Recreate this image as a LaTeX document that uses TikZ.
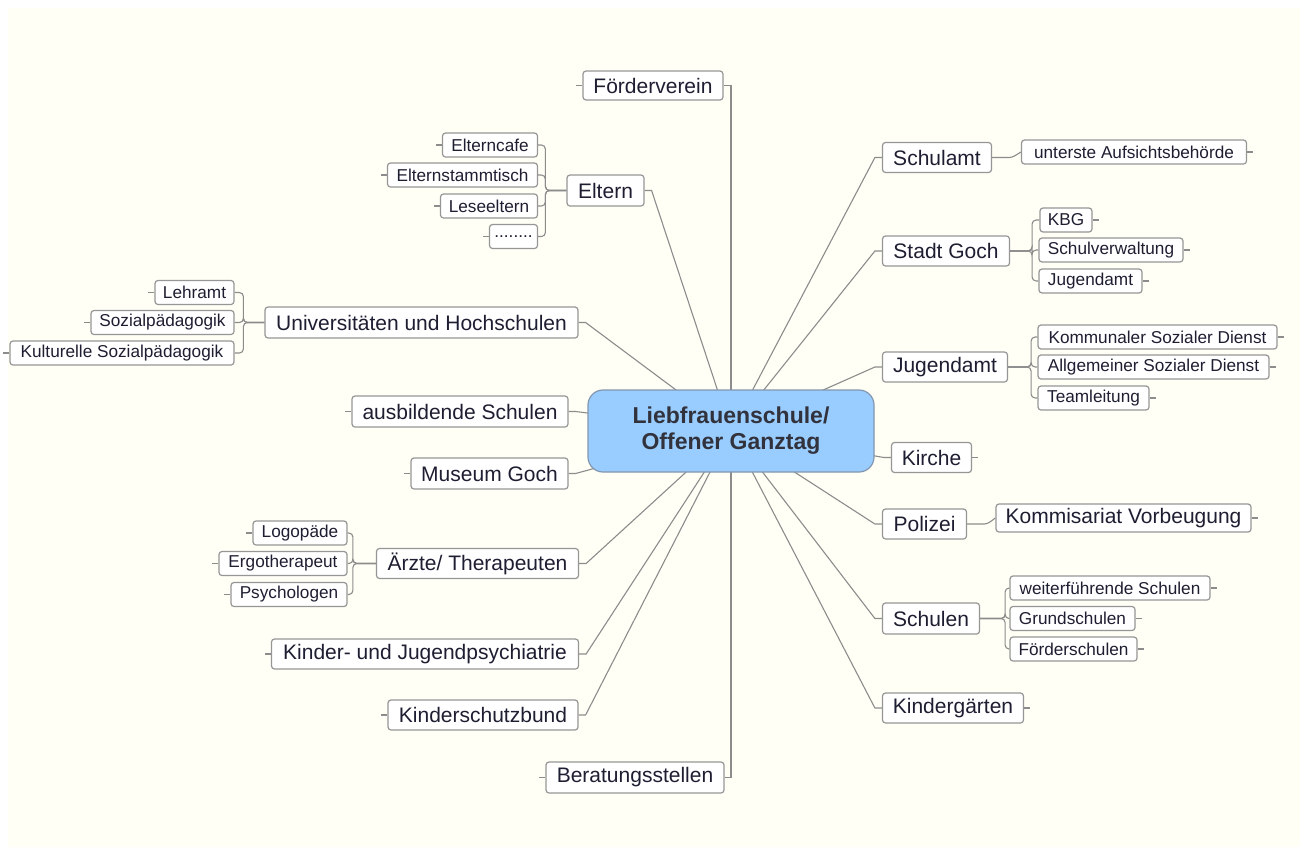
\documentclass[tikz,border=0pt]{standalone}
\usepackage{fontspec}
\setmainfont{Liberation Sans}
\usetikzlibrary{calc}
\pgfdeclarelayer{canvas}
\pgfdeclarelayer{background}
\pgfsetlayers{canvas,background,main}
\definecolor{cream}{RGB}{255,255,245}
\definecolor{boxline}{RGB}{150,150,150}
\definecolor{conline}{RGB}{140,140,140}
\definecolor{txt}{RGB}{30,30,50}
\definecolor{centerfill}{RGB}{153,204,255}
\definecolor{centerline}{RGB}{130,150,175}
\definecolor{centertxt}{RGB}{50,50,60}
\tikzset{
  x=1pt, y=-1pt,
  boxbase/.style={draw=boxline, line width=1.2pt, fill=white, rounded corners=3pt,
    inner sep=0pt, text=txt, anchor=center},
  mainbox/.style={boxbase, font=\fontsize{21}{24}\selectfont},
  subbox/.style={boxbase, font=\fontsize{17.2}{20}\selectfont},
  centerbox/.style={draw=centerline, line width=1.2pt, fill=centerfill, rounded corners=15pt,
    inner sep=0pt, text=centertxt, align=center,
    font=\fontsize{23}{26}\selectfont\bfseries},
  conn/.style={draw=conline, line width=1.1pt},
}
\begin{document}
\begin{tikzpicture}
\useasboundingbox (0,0) rectangle (1300,847);
\begin{pgfonlayer}{canvas}
\fill[white] (0,0) rectangle (1300,847);
\fill[cream] (8,8) rectangle (1300,847);
\end{pgfonlayer}

% center
\node[centerbox, minimum width=286, minimum height=82] (c) at (731,431) {Liebfrauenschule/\\Offener Ganztag};

% main nodes (left)
\node[mainbox, minimum width=140, minimum height=29] (foerder) at (653,85.5) {Förderverein};
\node[mainbox, minimum width=77, minimum height=31] (eltern) at (605.5,190.5) {Eltern};
\node[mainbox, minimum width=313, minimum height=31] (uni) at (421.5,322.5) {Universitäten und Hochschulen};
\node[mainbox, minimum width=216, minimum height=31] (ausb) at (460,411.5) {ausbildende Schulen};
\node[mainbox, minimum width=157, minimum height=31] (museum) at (489.5,473.5) {Museum Goch};
\node[mainbox, minimum width=202, minimum height=30] (aerzte) at (477.5,563.5) {Ärzte/ Therapeuten};
\node[mainbox, minimum width=307, minimum height=30] (kjp) at (425,654) {Kinder- und Jugendpsychiatrie};
\node[mainbox, minimum width=190, minimum height=30] (ksb) at (483,715) {Kinderschutzbund};
\node[mainbox, minimum width=178, minimum height=31] (berat) at (635,777.5) {Beratungsstellen};

% main nodes (right)
\node[mainbox, minimum width=109, minimum height=30] (schulamt) at (937,157.5) {Schulamt};
\node[mainbox, minimum width=127, minimum height=30] (stadt) at (946,251) {Stadt Goch};
\node[mainbox, minimum width=125, minimum height=30] (jugend) at (945,367) {Jugendamt};
\node[mainbox, minimum width=80, minimum height=30] (kirche) at (931.5,457.5) {Kirche};
\node[mainbox, minimum width=84, minimum height=30] (polizei) at (924.5,524) {Polizei};
\node[mainbox, minimum width=97, minimum height=31] (schulen) at (931,618.5) {Schulen};
\node[mainbox, minimum width=141, minimum height=30] (kiga) at (953,708) {Kindergärten};
\node[mainbox, minimum width=255, minimum height=28] (kommis) at (1123.5,518) {Kommisariat Vorbeugung};

% sub nodes
\node[subbox, minimum width=95, minimum height=24] (e1) at (490,145) {Elterncafe};
\node[subbox, minimum width=150, minimum height=24] (e2) at (462.5,175) {Elternstammtisch};
\node[subbox, minimum width=97, minimum height=24] (e3) at (489,206) {Leseeltern};
\node[subbox, minimum width=48, minimum height=24] (e4) at (513.5,236.5) {........};

\node[subbox, minimum width=79, minimum height=24] (u1) at (194.5,292.5) {Lehramt};
\node[subbox, minimum width=143, minimum height=24] (u2) at (162.5,322.5) {Sozialpädagogik};
\node[subbox, minimum width=224, minimum height=24] (u3) at (122,353) {Kulturelle Sozialpädagogik};

\node[subbox, minimum width=94, minimum height=24] (a1) at (300,533) {Logopäde};
\node[subbox, minimum width=128, minimum height=24] (a2) at (283,563.5) {Ergotherapeut};
\node[subbox, minimum width=116, minimum height=24] (a3) at (289,594.5) {Psychologen};

\node[subbox, minimum width=225, minimum height=24] (s1) at (1134,152) {unterste Aufsichtsbehörde};

\node[subbox, minimum width=52, minimum height=24] (g1) at (1066,220) {KBG};
\node[subbox, minimum width=144, minimum height=24] (g2) at (1111,250) {Schulverwaltung};
\node[subbox, minimum width=103, minimum height=24] (g3) at (1090.5,281) {Jugendamt};

\node[subbox, minimum width=239, minimum height=24] (j1) at (1157.5,337) {Kommunaler Sozialer Dienst};
\node[subbox, minimum width=231, minimum height=24] (j2) at (1153.5,367) {Allgemeiner Sozialer Dienst};
\node[subbox, minimum width=111, minimum height=24] (j3) at (1093.5,398) {Teamleitung};

\node[subbox, minimum width=200, minimum height=24] (w1) at (1110,588) {weiterführende Schulen};
\node[subbox, minimum width=125, minimum height=24] (w2) at (1072.5,618.5) {Grundschulen};
\node[subbox, minimum width=127, minimum height=24] (w3) at (1073.5,649) {Förderschulen};

\begin{pgfonlayer}{background}
% center connectors, left side
\draw[conn] (c.center) -- (c.center |- foerder.east) -- (foerder.east);
\draw[conn] (c.center) -- (c.center |- berat.east) -- (berat.east);
\foreach \n in {eltern,uni,ausb,museum,aerzte,kjp,ksb}
  \draw[conn] (c.center) -- ($(\n.east)+(7,0)$) -- (\n.east);
% center connectors, right side
\foreach \n in {schulamt,stadt,jugend,kirche,polizei,schulen,kiga}
  \draw[conn] (c.center) -- ($(\n.west)+(-7,0)$) -- (\n.west);

% brackets left
\foreach \k in {e1,e2,e3,e4}
  \draw[conn, rounded corners=4pt] (eltern.west) -- ++(-21,0) |- (\k.east);
\foreach \k in {u1,u2,u3}
  \draw[conn, rounded corners=4pt] (uni.west) -- ++(-21,0) |- (\k.east);
\foreach \k in {a1,a2,a3}
  \draw[conn, rounded corners=4pt] (aerzte.west) -- ++(-23,0) |- (\k.east);
% brackets right
\foreach \k in {g1,g2,g3}
  \draw[conn, rounded corners=4pt] (stadt.east) -- ++(22,0) |- (\k.west);
\foreach \k in {j1,j2,j3}
  \draw[conn, rounded corners=4pt] (jugend.east) -- ++(23,0) |- (\k.west);
\foreach \k in {w1,w2,w3}
  \draw[conn, rounded corners=4pt] (schulen.east) -- ++(25,0) |- (\k.west);
% single children
\draw[conn, rounded corners=3pt] (schulamt.east) -- ++(20,0) -- (s1.west);
\draw[conn, rounded corners=3pt] (polizei.east) -- ++(20,0) -- (kommis.west);

% stubs
\foreach \n in {foerder,ausb,museum,kjp,ksb,berat,e1,e2,e3,e4,u1,u2,u3,a1,a2,a3}
  \draw[conn] (\n.west) -- ++(-6,0);
\foreach \n in {kirche,kiga,kommis,s1,g1,g2,g3,j1,j2,j3,w1,w2,w3}
  \draw[conn] (\n.east) -- ++(6,0);
\end{pgfonlayer}
\end{tikzpicture}
\end{document}
